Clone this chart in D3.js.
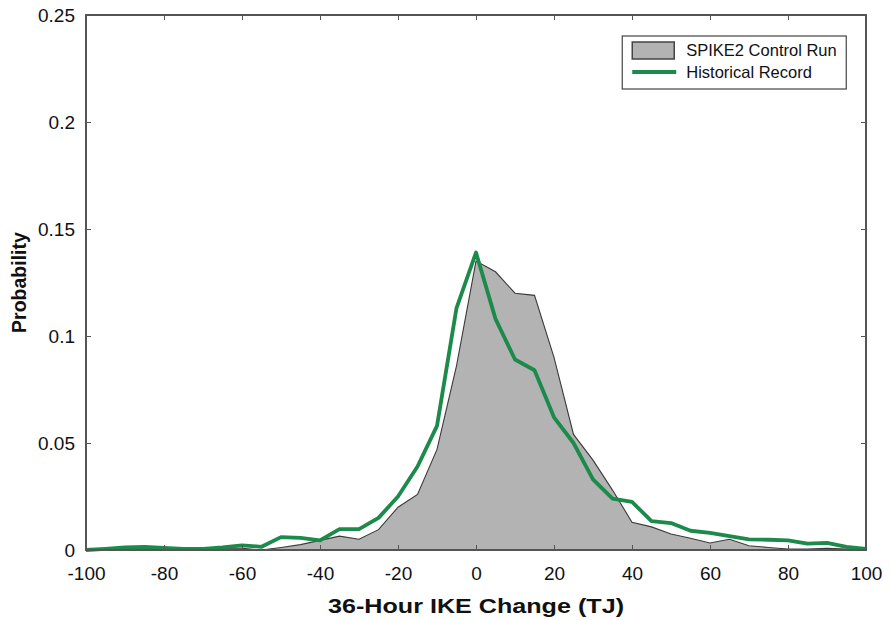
<!DOCTYPE html>
<html>
<head>
<meta charset="utf-8">
<script src="https://cdnjs.cloudflare.com/ajax/libs/d3/7.8.5/d3.min.js"></script>
<style>
  body { margin: 0; background: #fff; }
  svg text { font-family: "Liberation Sans", Arial, Helvetica, sans-serif; }
</style>
</head>
<body>
<div id="chart"></div>
<script>
'use strict';

// bin centres (TJ), 5 TJ apart
const ikeChange = d3.range(-100, 101, 5);

// SPIKE2 control run (grey area)
const spikeProb = [
    0.0005, 0.0003, 0.0008, 0.0008, 0.0005, 0.0003, 0.0005, 0.0008, 0.0008, 0.0,
    0.0012, 0.0025, 0.0045, 0.0065, 0.005, 0.0095, 0.02, 0.026, 0.047, 0.086,
    0.135, 0.13, 0.12, 0.119, 0.09, 0.054, 0.042, 0.028, 0.013, 0.0108,
    0.0075, 0.0055, 0.0033, 0.005, 0.002, 0.0012, 0.0005, 0.0005, 0.0008, 0.0005,
    0.0003
];

// historical record (green line)
const histProb = [
    0.0, 0.0005, 0.0012, 0.0015, 0.001, 0.0005, 0.0005, 0.0012, 0.0022, 0.0015,
    0.006, 0.0057, 0.0045, 0.0098, 0.0098, 0.015, 0.025, 0.039, 0.058, 0.113,
    0.139, 0.108, 0.089, 0.084, 0.062, 0.05, 0.033, 0.024, 0.0225, 0.0135,
    0.0126, 0.009, 0.008, 0.0065, 0.005, 0.0048, 0.0045, 0.003, 0.0033, 0.0015,
    0.0005
];

const xTicks = [-100, -80, -60, -40, -20, 0, 20, 40, 60, 80, 100];
const yTicks = [0, 0.05, 0.1, 0.15, 0.2, 0.25];
const legendLabels = ['SPIKE2 Control Run', 'Historical Record'];

const W = 890, H = 620;
const margin = {top: 15, right: 24, bottom: 70, left: 86};
const width = W - margin.left - margin.right,
    height = H - margin.top - margin.bottom;

const spikeData = ikeChange.map((d, i) => ({x: d, y: spikeProb[i]}));
const histData = ikeChange.map((d, i) => ({x: d, y: histProb[i]}));

const svg = d3.select('#chart').append('svg')
    .attr('width', W)
    .attr('height', H)
    .append('g')
        .attr('transform', `translate(${margin.left}, ${margin.top})`);

const x = d3.scaleLinear().domain([-100, 100]).range([0, width]);
const y = d3.scaleLinear().domain([0, 0.25]).range([height, 0]);

const axisColor = '#555';
const green = '#1c8a4b';

// grey area
svg.append('path')
    .datum(spikeData)
    .attr('fill', '#b3b3b3')
    .attr('d', d3.area().x(d => x(d.x)).y0(y(0)).y1(d => y(d.y)));
svg.append('path')
    .datum(spikeData)
    .attr('fill', 'none')
    .attr('stroke', '#3a3a3a')
    .attr('stroke-width', 1.1)
    .attr('d', d3.line().x(d => x(d.x)).y(d => y(d.y)));

// green line
svg.append('path')
    .datum(histData)
    .attr('fill', 'none')
    .attr('stroke', green)
    .attr('stroke-width', 3.8)
    .attr('stroke-linejoin', 'round')
    .attr('d', d3.line().x(d => x(d.x)).y(d => y(d.y)));

// axes (ticks pointing inward, MATLAB style)
function styleAxis(g) {
    g.select('.domain').remove();
    g.selectAll('.tick line').attr('stroke', axisColor).attr('stroke-width', 1);
    g.selectAll('.tick text').attr('fill', '#111').attr('font-size', 19);
}
svg.append('g')
    .attr('transform', `translate(0, ${height})`)
    .call(d3.axisBottom(x).tickValues(xTicks).tickSizeInner(-5).tickPadding(17)
        .tickFormat(d => String(d)))
    .call(styleAxis);
svg.append('g')
    .call(d3.axisLeft(y).tickValues(yTicks).tickSizeInner(-5).tickPadding(11)
        .tickFormat(d => d === 0 ? '0' : String(+d.toFixed(2))))
    .call(styleAxis);
svg.append('g')
    .call(d3.axisTop(x).tickValues(xTicks).tickSizeInner(-5).tickFormat(''))
    .call(styleAxis);
svg.append('g')
    .attr('transform', `translate(${width}, 0)`)
    .call(d3.axisRight(y).tickValues(yTicks).tickSizeInner(-5).tickFormat(''))
    .call(styleAxis);

// frame
svg.append('rect')
    .attr('width', width)
    .attr('height', height)
    .attr('fill', 'none')
    .attr('stroke', axisColor)
    .attr('stroke-width', 2);

// axis titles
svg.append('text')
    .attr('x', width / 2)
    .attr('y', height + 63)
    .attr('text-anchor', 'middle')
    .attr('font-size', 21)
    .attr('font-weight', 'bold')
    .attr('fill', '#111')
    .attr('textLength', 296)
    .attr('lengthAdjust', 'spacingAndGlyphs')
    .text('36-Hour IKE Change (TJ)');
svg.append('text')
    .attr('transform', `translate(${-60}, ${height / 2}) rotate(-90)`)
    .attr('text-anchor', 'middle')
    .attr('font-size', 19.5)
    .attr('font-weight', 'bold')
    .attr('fill', '#111')
    .text('Probability');

// legend
const legend = svg.append('g')
    .attr('transform', `translate(${x(37.5)}, 21)`);
legend.append('rect')
    .attr('width', 224)
    .attr('height', 53)
    .attr('fill', '#fff')
    .attr('stroke', '#444')
    .attr('stroke-width', 1.2);
legend.append('rect')
    .attr('x', 10).attr('y', 6)
    .attr('width', 42).attr('height', 17)
    .attr('fill', '#b3b3b3')
    .attr('stroke', '#444')
    .attr('stroke-width', 1.5);
legend.append('line')
    .attr('x1', 10).attr('x2', 54)
    .attr('y1', 36).attr('y2', 36)
    .attr('stroke', green)
    .attr('stroke-width', 3.8);
legend.selectAll('text.lab')
    .data(legendLabels)
    .join('text')
        .attr('class', 'lab')
        .attr('x', 64)
        .attr('y', (d, i) => 20 + i * 22)
        .attr('font-size', 16.5)
        .attr('fill', '#111')
        .text(d => d);
</script>
</body>
</html>
